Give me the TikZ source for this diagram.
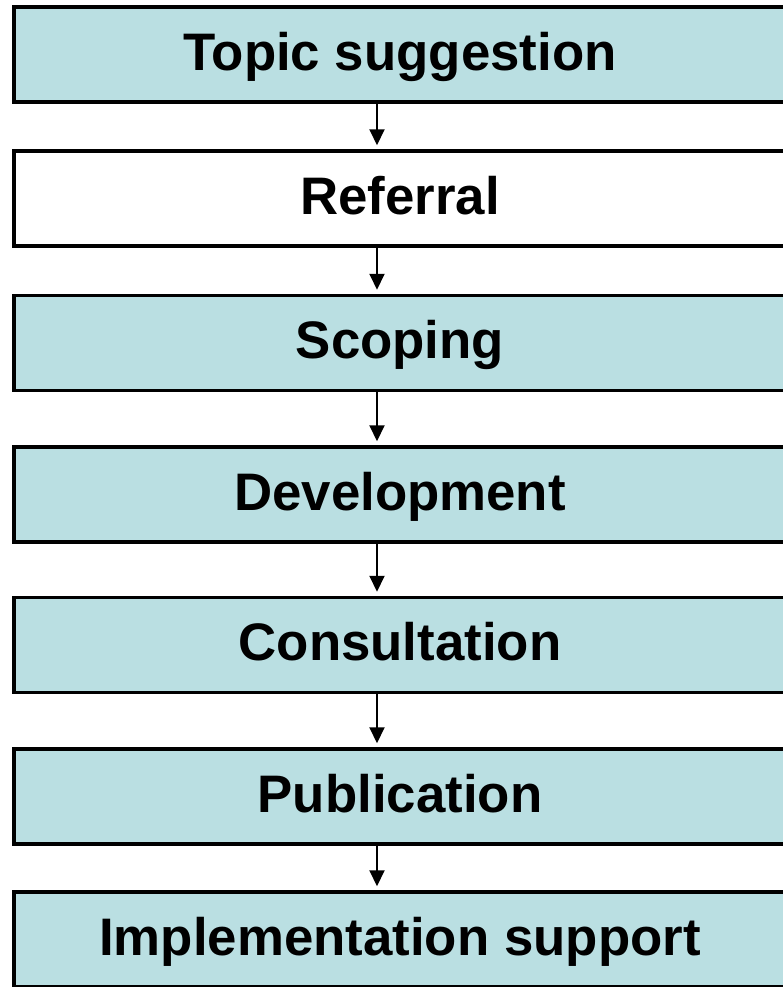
\documentclass[tikz,border=0pt]{standalone}
\usepackage{fontspec}
\setmainfont{Liberation Sans}
\usetikzlibrary{arrows.meta}
\definecolor{stagefill}{HTML}{BADFE2}
\definecolor{ink}{HTML}{000000}

\begin{document}
\begin{tikzpicture}[x=1bp,y=1bp,
  stage/.style={draw=ink,fill=stagefill,line width=3.5bp,
    minimum width=772bp,minimum height=95bp,inner sep=0pt,
    text height=42bp,text depth=11bp,
    font=\fontsize{53}{60}\selectfont\bfseries},
  plain/.style={stage,fill=white},
  flow/.style={draw=ink,line width=2bp,-{Triangle[length=16bp,width=15bp]}}
]
\useasboundingbox (0,0) rectangle (783,-987);

\node[stage] (topic)   at (400,-54.5)  {Topic suggestion};
\node[plain] (referral) at (400,-198.5) {Referral};
\node[stage] (scoping) at (400,-343)   {Scoping};
\node[stage] (develop) at (400,-494.5) {Development};
\node[stage] (consult) at (400,-645)   {Consultation};
\node[stage] (publish) at (400,-796.5) {Publication};
\node[stage] (support) at (400,-939.5) {Implementation support};

% arrows sit a little left of the box centres
\foreach \a/\b in {topic/referral,referral/scoping,scoping/develop,
                   develop/consult,consult/publish,publish/support}
  \draw[flow] ([xshift=-23bp]\a.south) -- ([xshift=-23bp,yshift=4bp]\b.north);
\end{tikzpicture}
\end{document}
